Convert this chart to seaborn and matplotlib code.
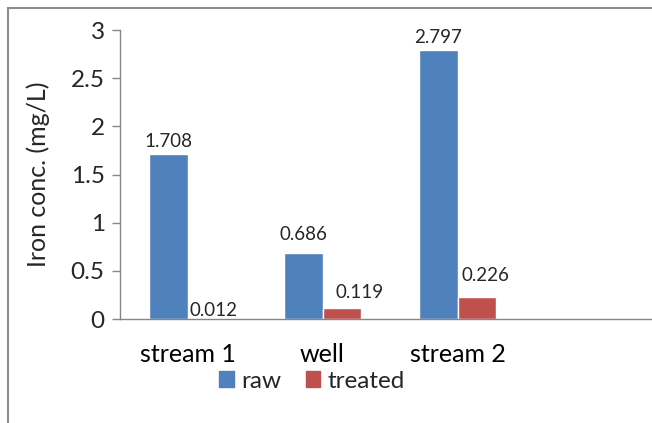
import numpy as np
import pandas as pd
import matplotlib
matplotlib.use("Agg")
import matplotlib.pyplot as plt
import seaborn as sns
from matplotlib.patches import Rectangle

# data
sites = ["stream 1", "well", "stream 2"]
raw = [1.708, 0.686, 2.797]
treated = [0.012, 0.119, 0.226]
series = ["raw", "treated"]
colors = ["#4F81BD", "#C0504D"]

df = pd.DataFrame({
    "site": sites * 2,
    "conc": raw + treated,
    "kind": ["raw"] * 3 + ["treated"] * 3,
})

sns.set_style("white")
plt.rcParams["font.family"] = ["Lato", "DejaVu Sans"]

fig = plt.figure(figsize=(6.52, 4.23), dpi=100)
ax = fig.add_axes([120 / 652, 104 / 423, 540 / 652, 289 / 423])

order = sites + [" "]
sns.barplot(data=df, x="site", y="conc", hue="kind", order=order,
            hue_order=series, palette=colors, width=0.574, gap=0,
            saturation=1, ax=ax, legend=False)

ax.set_ylim(0, 3)
ax.set_xlim(-0.5, 3.5)
ax.set_yticks(np.arange(0, 3.01, 0.5))
ax.set_yticklabels(["0", "0.5", "1", "1.5", "2", "2.5", "3"])
ax.set_xticks([-0.5, 0.5, 1.5, 2.5, 3.5], minor=True)
ax.set_xticks(range(4))
ax.set_xticklabels(order)
ax.tick_params(axis="x", which="major", length=0, labelsize=18, pad=17, colors="#000000")
ax.tick_params(axis="x", which="minor", length=7, width=1, color="#868686", direction="out")
ax.tick_params(axis="y", length=6, width=1, color="#868686", labelsize=17.5, pad=5, left=True)
ax.set_xlabel("")
ax.set_ylabel("Iron conc. (mg/L)", fontsize=18)
ax.yaxis.set_label_coords(-0.13, 0.5)
for s in ["top", "right"]:
    ax.spines[s].set_visible(False)
for s in ["left", "bottom"]:
    ax.spines[s].set_color("#868686")
    ax.spines[s].set_linewidth(1)

# data labels (offsets in points: dx, dy)
offsets = {
    "raw": [(0, 9), (0, 13), (0, 9)],
    "treated": [(5, 5), (13, 11), (6, 16)],
}
for k, cont in zip(series, ax.containers):
    for i, bar in enumerate(cont.patches[:3]):
        h = bar.get_height()
        dx, dy = offsets[k][i]
        ax.annotate(f"{h:.3f}", (bar.get_x() + bar.get_width() / 2, h),
                    xytext=(dx, dy), textcoords="offset points",
                    ha="center", va="center", fontsize=13.5)

handles = [Rectangle((0, 0), 1, 1, color=c) for c in colors]
fig.legend(handles, series, loc="center", bbox_to_anchor=(312 / 652, 1 - 381 / 423),
           ncol=2, frameon=False, fontsize=17.5, handlelength=0.6, handleheight=0.6,
           handletextpad=0.3, columnspacing=1.0)

fig.add_artist(Rectangle((8 / 652, -0.1), 1.2, (423 - 8) / 423 + 0.1,
                         transform=fig.transFigure, fill=False,
                         edgecolor="#8c8c8c", linewidth=1.5))

fig.savefig("out.png", dpi=100)
